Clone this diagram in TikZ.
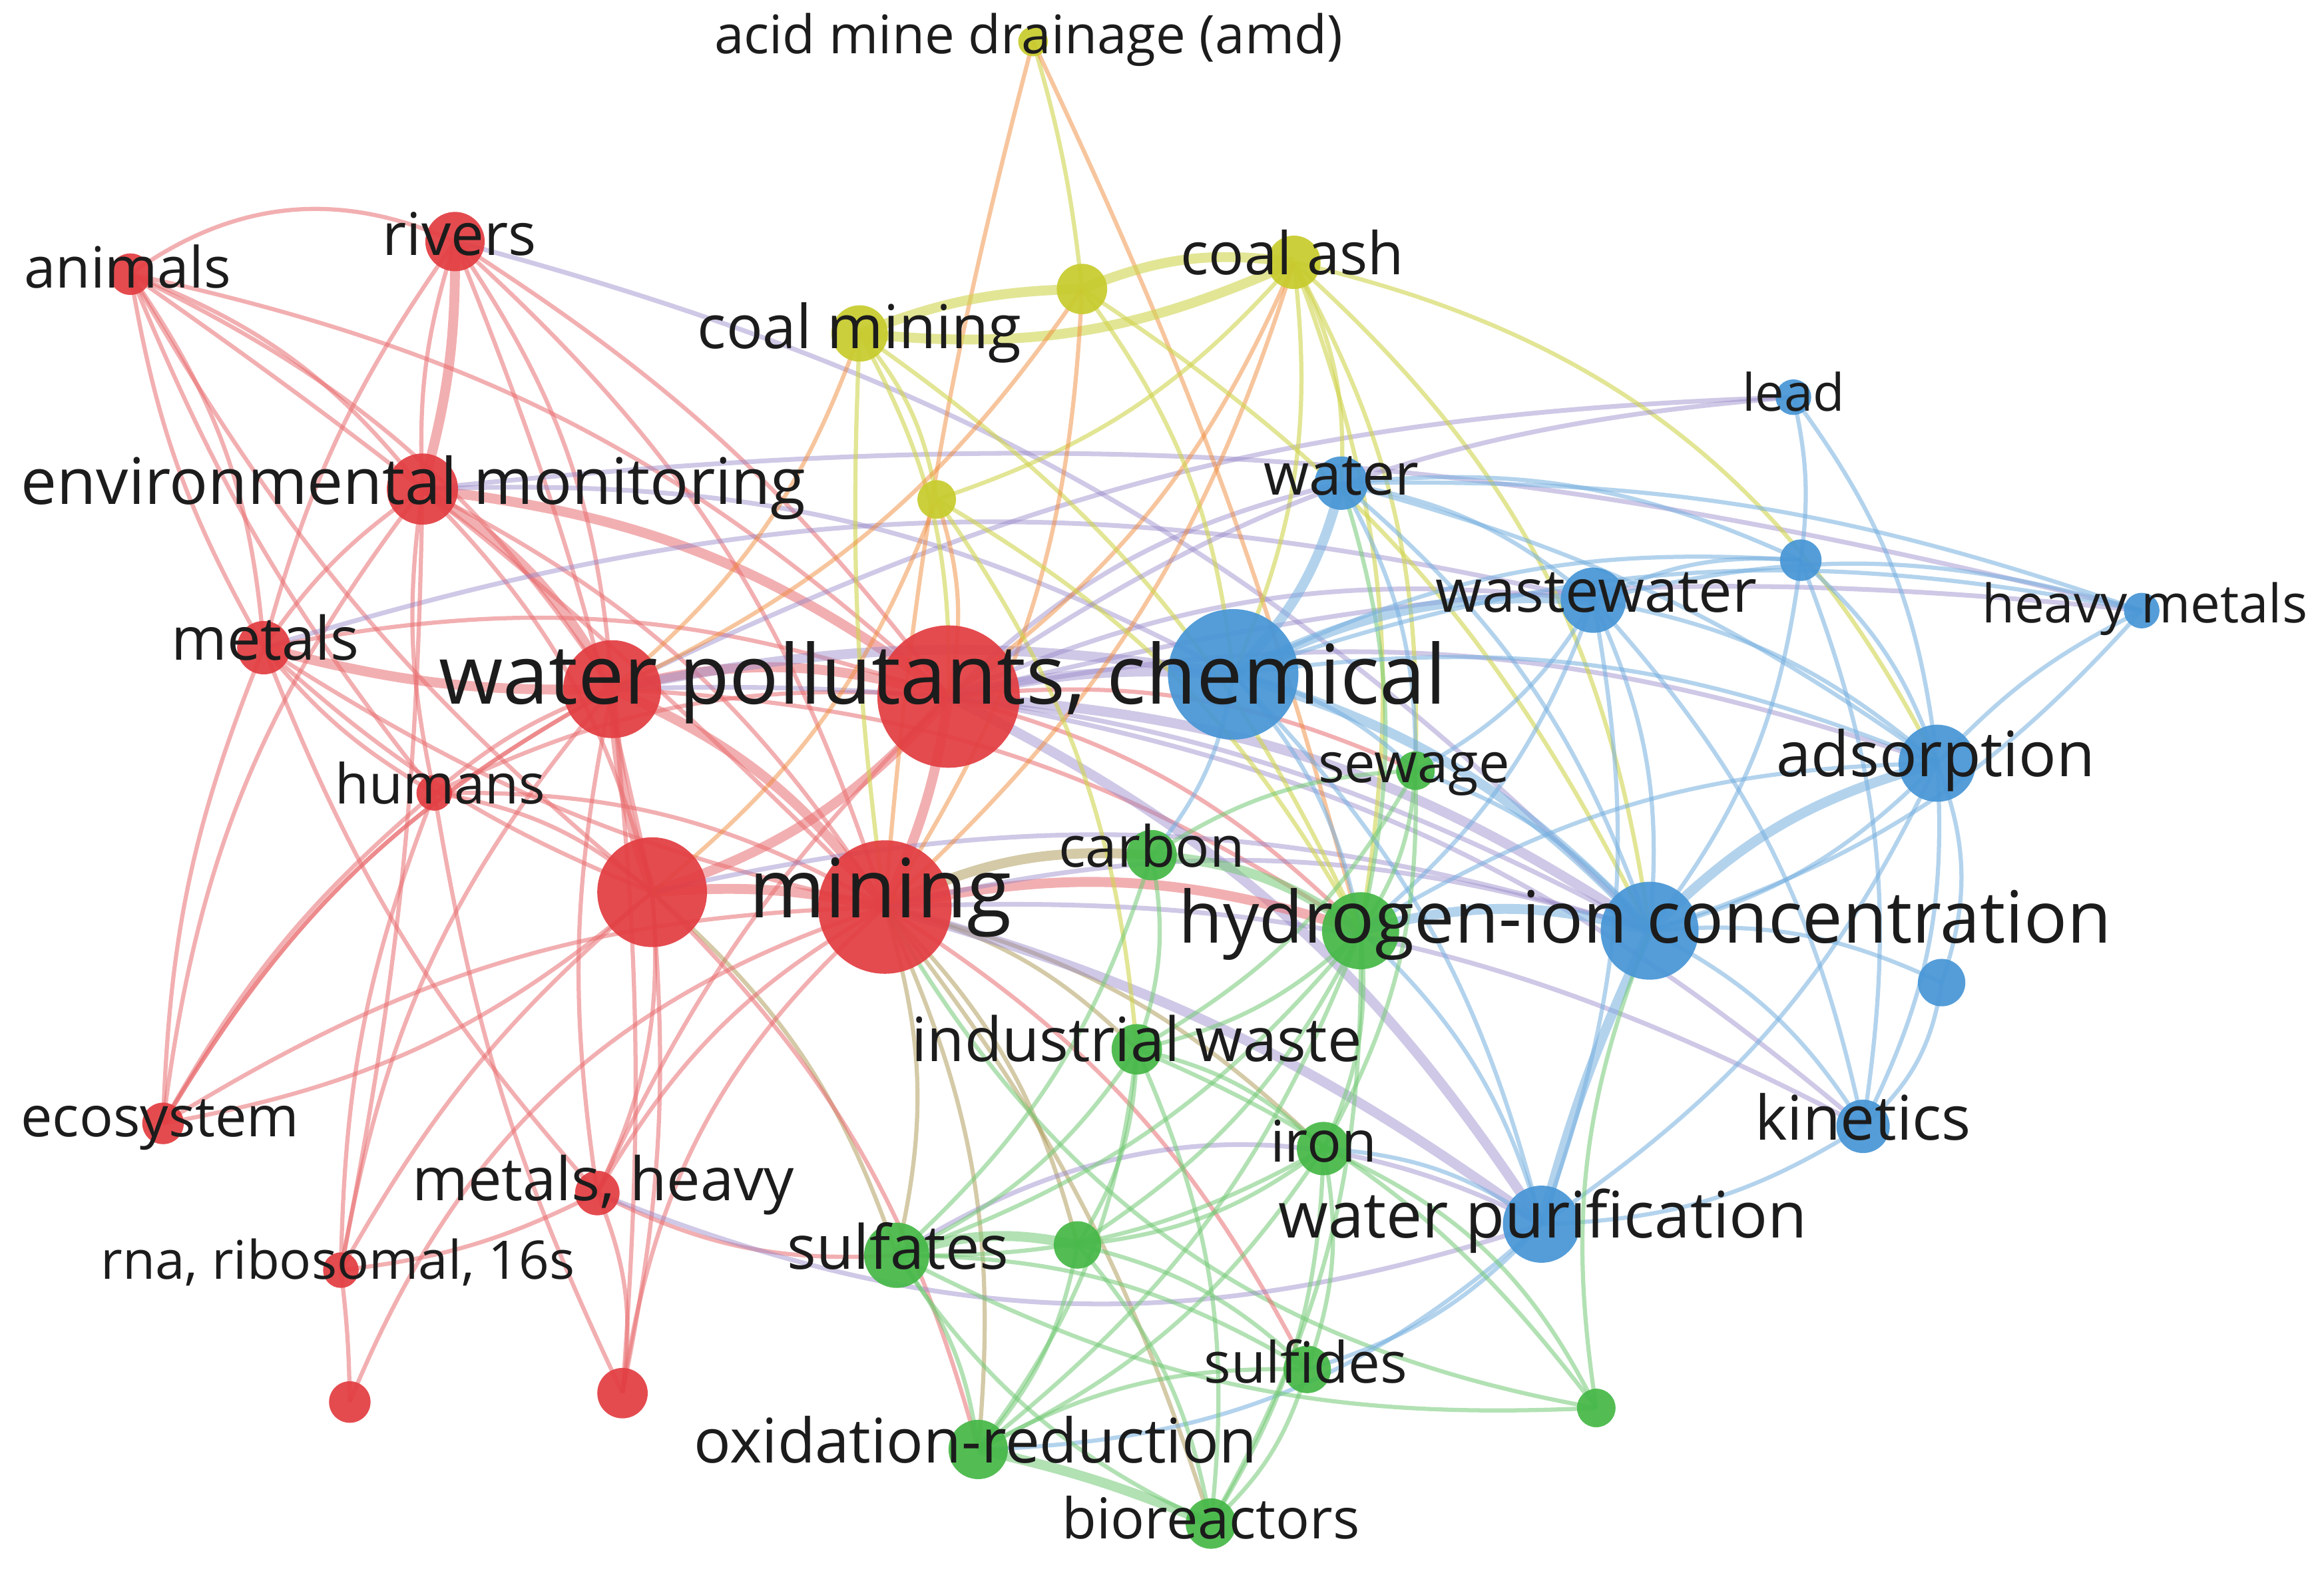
\documentclass[tikz,border=0pt]{standalone}
\usepackage{fontspec}
\setmainfont{Open Sans}
\usetikzlibrary{positioning}
\definecolor{vosred}{RGB}{226,62,66}
\definecolor{vosblue}{RGB}{72,150,214}
\definecolor{vosgreen}{RGB}{70,184,72}
\definecolor{vosyellow}{RGB}{200,204,46}
\definecolor{vospurple}{RGB}{150,135,200}
\definecolor{vosorange}{RGB}{240,140,60}
\definecolor{vosolive}{RGB}{170,150,80}
\definecolor{vostext}{RGB}{28,28,28}
\pgfdeclarelayer{background}
\pgfdeclarelayer{foreground}
\pgfsetlayers{background,main,foreground}

\begin{document}
\begin{tikzpicture}[x=0.01cm, y=-0.01cm,
	kwnode/.style={circle, inner sep=0pt, minimum size=#1, fill opacity=0.93},
	rednode/.style={kwnode=#1, fill=vosred},
	bluenode/.style={kwnode=#1, fill=vosblue},
	greennode/.style={kwnode=#1, fill=vosgreen},
	yellownode/.style={kwnode=#1, fill=vosyellow},
	kwlabel/.style={font=\fontsize{#1}{#1}\selectfont, text=vostext, inner sep=0pt, text height=0.72em, text depth=0.2em},
	redlink/.style={draw=vosred!75!white, opacity=0.55, line width=0.8pt, bend left=15},
	bluelink/.style={draw=vosblue!75!white, opacity=0.55, line width=0.8pt, bend left=15},
	greenlink/.style={draw=vosgreen!75!white, opacity=0.55, line width=0.8pt, bend left=15},
	yellowlink/.style={draw=vosyellow!85!white, opacity=0.6, line width=0.8pt, bend left=15},
	mixlink/.style={draw=vospurple, opacity=0.45, line width=0.9pt, bend left=15},
	orangelink/.style={draw=vosorange, opacity=0.5, line width=0.8pt, bend left=15},
	olivelink/.style={draw=vosolive, opacity=0.5, line width=0.8pt, bend left=15},
	heavy/.style={line width=1.9pt},
	]
	\useasboundingbox (0,0) rectangle (1568,1064);
	%Nodes
	\node[rednode=0.28cm]    (anim)     at (88,185)   {};
	\node[rednode=0.40cm]    (rivers)   at (307,163)  {};
	\node[rednode=0.48cm]    (envmon)   at (285,330)  {};
	\node[rednode=0.36cm]    (metals)   at (178,437)  {};
	\node[rednode=0.66cm]    (wpol)     at (413,465)  {};
	\node[rednode=0.24cm]    (humans)   at (293,535)  {};
	\node[rednode=0.74cm]    (redc)     at (440,602)  {};
	\node[rednode=0.28cm]    (ecosys)   at (110,758)  {};
	\node[rednode=0.30cm]    (metheavy) at (403,805)  {};
	\node[rednode=0.24cm]    (rna)      at (230,857)  {};
	\node[rednode=0.28cm]    (redsw)    at (236,946)  {};
	\node[rednode=0.34cm]    (redse)    at (420,940)  {};
	\node[yellownode=0.20cm] (amd)      at (697,28)   {};
	\node[yellownode=0.36cm] (coalash)  at (873,177)  {};
	\node[yellownode=0.34cm] (ylwa)     at (730,195)  {};
	\node[yellownode=0.38cm] (coalmin)  at (580,225)  {};
	\node[yellownode=0.26cm] (ylwb)     at (632,337)  {};
	\node[bluenode=0.24cm]   (lead)     at (1210,268) {};
	\node[bluenode=0.36cm]   (water)    at (905,326)  {};
	\node[bluenode=0.28cm]   (blueb)    at (1215,378) {};
	\node[bluenode=0.44cm]   (wastew)   at (1075,405) {};
	\node[bluenode=0.24cm]   (heavym)   at (1445,412) {};
	\node[bluenode=0.88cm]   (bluebig)  at (832,455)  {};
	\node[bluenode=0.52cm]   (adsorp)   at (1307,515) {};
	\node[bluenode=0.66cm]   (hion)     at (1113,628) {};
	\node[bluenode=0.32cm]   (bluec)    at (1310,663) {};
	\node[bluenode=0.36cm]   (kinet)    at (1257,760) {};
	\node[bluenode=0.52cm]   (wpur)     at (1040,826) {};
	\node[greennode=0.26cm]  (sewage)   at (955,520)  {};
	\node[greennode=0.34cm]  (carbon)   at (777,577)  {};
	\node[greennode=0.52cm]  (ghion)    at (918,628)  {};
	\node[greennode=0.34cm]  (indw)     at (767,708)  {};
	\node[greennode=0.36cm]  (iron)     at (893,775)  {};
	\node[greennode=0.44cm]  (sulfat)   at (605,847)  {};
	\node[greennode=0.32cm]  (greena)   at (727,840)  {};
	\node[greennode=0.32cm]  (sulfid)   at (882,924)  {};
	\node[greennode=0.26cm]  (greenb)   at (1077,950) {};
	\node[greennode=0.40cm]  (oxred)    at (660,978)  {};
	\node[greennode=0.34cm]  (biorx)    at (817,1028) {};
	\node[rednode=0.96cm]    (wpc)      at (640,470)  {};
	\node[rednode=0.90cm]    (mining)   at (597,612)  {};

	\begin{pgfonlayer}{foreground}
	\node[kwlabel=10.9pt] (tanim)     at (86,185)   {animals};
	\node[kwlabel=11.3pt] (trivers)   at (310,163)  {rivers};
	\node[kwlabel=12.3pt] (tenvmon)   at (279,331)  {environmental monitoring};
	\node[kwlabel=11.5pt] (tmetals)   at (179,436)  {metals};
	\node[kwlabel=15.8pt] (twpc)      at (636,466)  {water pollutants, chemical};
	\node[kwlabel=10.6pt] (thumans)   at (297,533)  {humans};
	\node[kwlabel=15.7pt] (tmining)   at (594,610)  {mining};
	\node[kwlabel=10.8pt] (tecosys)   at (108,758)  {ecosystem};
	\node[kwlabel=11.5pt] (tmetheavy) at (407,801)  {metals, heavy};
	\node[kwlabel=10.2pt] (trna)      at (228,854)  {rna, ribosomal, 16s};
	\node[kwlabel=10.2pt] (tamd)      at (694,27)   {acid mine drainage (amd)};
	\node[kwlabel=11.3pt] (tcoalash)  at (872,176)  {coal ash};
	\node[kwlabel=11.6pt] (tcoalmin)  at (580,226)  {coal mining};
	\node[kwlabel=9.9pt]  (tlead)     at (1210,268) {lead};
	\node[kwlabel=11.2pt] (twater)    at (905,325)  {water};
	\node[kwlabel=11.5pt] (twastew)   at (1077,404) {wastewater};
	\node[kwlabel=10.2pt] (theavym)   at (1447,411) {heavy metals};
	\node[kwlabel=12pt]   (tadsorp)   at (1306,515) {adsorption};
	\node[kwlabel=13.8pt] (thion)     at (1110,627) {hydrogen-ion concentration};
	\node[kwlabel=11.8pt] (tkinet)    at (1257,760) {kinetics};
	\node[kwlabel=12.3pt] (twpur)     at (1041,826) {water purification};
	\node[kwlabel=10.6pt] (tsewage)   at (954,519)  {sewage};
	\node[kwlabel=10.9pt] (tcarbon)   at (777,576)  {carbon};
	\node[kwlabel=11.7pt] (tindw)     at (767,707)  {industrial waste};
	\node[kwlabel=11pt]   (tiron)     at (893,775)  {iron};
	\node[kwlabel=11.7pt] (tsulfat)   at (606,847)  {sulfates};
	\node[kwlabel=10.9pt] (tsulfid)   at (881,924)  {sulfides};
	\node[kwlabel=11.8pt] (toxred)    at (658,978)  {oxidation-reduction};
	\node[kwlabel=10.8pt] (tbiorx)    at (817,1029) {bioreactors};
	\end{pgfonlayer}

	\begin{pgfonlayer}{background}
	\fill[white] (0,0) rectangle (1568,1064);
	%red cluster
	\draw[redlink, bend left=30] (anim.center) to (rivers.center);
	\draw[redlink] (anim.center) to (envmon.center);
	\draw[redlink] (anim.center) to (metals.center);
	\draw[redlink, bend right=10] (anim.center) to (metals.center);
	\draw[redlink] (anim.center) to (wpol.center);
	\draw[redlink] (anim.center) to (wpc.center);
	\draw[redlink, bend left=5] (anim.center) to (mining.center);
	\draw[redlink, bend right=10] (anim.center) to (redc.center);
	\draw[redlink, bend right=8] (anim.center) to (humans.center);
	\draw[redlink, heavy, bend left=8] (rivers.center) to (envmon.center);
	\draw[redlink, bend right=10] (rivers.center) to (envmon.center);
	\draw[redlink, bend right=10] (rivers.center) to (metals.center);
	\draw[redlink] (rivers.center) to (wpol.center);
	\draw[redlink, bend left=10] (rivers.center) to (wpc.center);
	\draw[redlink] (rivers.center) to (mining.center);
	\draw[redlink, bend left=5] (rivers.center) to (redc.center);
	\draw[mixlink] (rivers.center) to (hion.center);
	\draw[redlink, bend right=10] (envmon.center) to (metals.center);
	\draw[redlink, heavy] (envmon.center) to (wpol.center);
	\draw[redlink, heavy] (envmon.center) to (wpc.center);
	\draw[redlink] (envmon.center) to (mining.center);
	\draw[redlink] (envmon.center) to (redc.center);
	\draw[redlink, bend right=10] (envmon.center) to (humans.center);
	\draw[redlink, bend right=15] (envmon.center) to (ecosys.center);
	\draw[mixlink] (envmon.center) to (bluebig.center);
	\draw[mixlink, bend left=10] (envmon.center) to (heavym.center);
	\draw[redlink, heavy, bend right=8] (metals.center) to (wpol.center);
	\draw[redlink] (metals.center) to (wpc.center);
	\draw[redlink, bend right=10] (metals.center) to (mining.center);
	\draw[redlink, bend right=10] (metals.center) to (redc.center);
	\draw[redlink, bend right=10] (metals.center) to (humans.center);
	\draw[redlink, bend right=10] (metals.center) to (ecosys.center);
	\draw[redlink, bend right=10] (metals.center) to (metheavy.center);
	\draw[mixlink] (metals.center) to (wastew.center);
	\draw[redlink, bend left=10] (humans.center) to (wpol.center);
	\draw[redlink] (humans.center) to (mining.center);
	\draw[redlink] (humans.center) to (redc.center);
	\draw[redlink, bend right=10] (humans.center) to (ecosys.center);
	\draw[redlink] (humans.center) to (wpc.center);
	\draw[redlink, bend right=10] (humans.center) to (rna.center);
	\draw[redlink, heavy] (wpol.center) to (wpc.center);
	\draw[redlink, heavy] (wpol.center) to (mining.center);
	\draw[redlink, heavy, bend right=8] (wpol.center) to (redc.center);
	\draw[redlink, bend right=10] (wpol.center) to (metheavy.center);
	\draw[redlink, bend right=15] (wpol.center) to (rna.center);
	\draw[redlink, bend right=15] (wpol.center) to (ecosys.center);
	\draw[mixlink, heavy, bend left=10] (wpol.center) to (bluebig.center);
	\draw[mixlink] (wpol.center) to (hion.center);
	\draw[mixlink, bend left=12] (wpol.center) to (lead.center);
	\draw[redlink] (wpol.center) to (ghion.center);
	\draw[redlink, heavy, bend left=8] (wpc.center) to (mining.center);
	\draw[redlink, heavy] (wpc.center) to (redc.center);
	\draw[mixlink, heavy, bend left=8] (wpc.center) to (bluebig.center);
	\draw[mixlink, heavy] (wpc.center) to (hion.center);
	\draw[mixlink] (wpc.center) to (wastew.center);
	\draw[mixlink] (wpc.center) to (water.center);
	\draw[mixlink, bend left=10] (wpc.center) to (heavym.center);
	\draw[mixlink, heavy] (wpc.center) to (wpur.center);
	\draw[redlink] (wpc.center) to (sewage.center);
	\draw[redlink, bend right=10] (wpc.center) to (metheavy.center);
	\draw[redlink] (wpc.center) to (ghion.center);
	\draw[mixlink] (wpc.center) to (adsorp.center);
	\draw[mixlink] (wpc.center) to (kinet.center);
	\draw[redlink, heavy, bend left=8] (redc.center) to (mining.center);
	\draw[redlink] (redc.center) to (metheavy.center);
	\draw[redlink, bend right=10] (redc.center) to (rna.center);
	\draw[redlink] (redc.center) to (ecosys.center);
	\draw[redlink, bend left=8] (redc.center) to (redse.center);
	\draw[olivelink] (redc.center) to (sulfat.center);
	\draw[mixlink] (redc.center) to (hion.center);
	\draw[redlink] (redc.center) to (oxred.center);
	\draw[redlink] (metheavy.center) to (mining.center);
	\draw[redlink, bend right=20] (mining.center) to (redse.center);
	\draw[redlink, bend right=25] (mining.center) to (redsw.center);
	\draw[olivelink] (mining.center) to (sulfat.center);
	\draw[olivelink] (mining.center) to (oxred.center);
	\draw[olivelink, bend left=10] (mining.center) to (biorx.center);
	\draw[olivelink] (mining.center) to (iron.center);
	\draw[olivelink] (mining.center) to (indw.center);
	\draw[olivelink, heavy] (mining.center) to (carbon.center);
	\draw[redlink, heavy] (mining.center) to (ghion.center);
	\draw[mixlink] (mining.center) to (hion.center);
	\draw[mixlink, heavy, bend left=10] (mining.center) to (wpur.center);
	\draw[olivelink] (mining.center) to (greena.center);
	\draw[greenlink, bend right=25] (mining.center) to (greenb.center);
	\draw[mixlink] (mining.center) to (kinet.center);
	\draw[redlink] (mining.center) to (sulfid.center);
	\draw[redlink] (metheavy.center) to (redse.center);
	\draw[redlink, bend left=10] (metheavy.center) to (rna.center);
	\draw[redlink, bend right=15] (metheavy.center) to (sulfat.center);
	\draw[mixlink, bend right=20] (metheavy.center) to (wpur.center);
	\draw[redlink, bend left=3] (rna.center) to (redsw.center);
	\draw[redlink, bend left=5] (envmon.center) to (rna.center);
	\draw[redlink, bend left=15] (ecosys.center) to (mining.center);
	\draw[redlink, bend left=15] (ecosys.center) to (wpol.center);
	\draw[redlink, bend right=5] (redse.center) to (wpol.center);
	\draw[redlink, bend left=8] (redse.center) to (humans.center);
	%yellow cluster
	\draw[yellowlink, bend left=5] (amd.center) to (ylwa.center);
	\draw[orangelink, bend right=5] (amd.center) to (mining.center);
	\draw[orangelink, bend left=5] (amd.center) to (ghion.center);
	\draw[yellowlink, heavy] (ylwa.center) to (coalash.center);
	\draw[yellowlink, heavy, bend right=15] (coalmin.center) to (coalash.center);
	\draw[yellowlink] (coalash.center) to (ylwb.center);
	\draw[yellowlink] (coalash.center) to (bluebig.center);
	\draw[yellowlink] (coalash.center) to (water.center);
	\draw[yellowlink] (coalash.center) to (ghion.center);
	\draw[yellowlink, bend left=20] (coalash.center) to (hion.center);
	\draw[yellowlink] (coalash.center) to (sewage.center);
	\draw[orangelink] (coalash.center) to (wpc.center);
	\draw[orangelink] (coalash.center) to (mining.center);
	\draw[yellowlink, bend left=25] (coalash.center) to (adsorp.center);
	\draw[yellowlink, heavy, bend left=10] (coalmin.center) to (ylwa.center);
	\draw[yellowlink] (coalmin.center) to (ylwb.center);
	\draw[yellowlink] (coalmin.center) to (wpc.center);
	\draw[yellowlink, bend right=5] (coalmin.center) to (mining.center);
	\draw[orangelink] (coalmin.center) to (wpol.center);
	\draw[yellowlink] (coalmin.center) to (ghion.center);
	\draw[yellowlink] (ylwa.center) to (bluebig.center);
	\draw[orangelink] (ylwa.center) to (mining.center);
	\draw[orangelink] (ylwa.center) to (wpol.center);
	\draw[yellowlink] (ylwa.center) to (hion.center);
	\draw[orangelink] (ylwb.center) to (wpc.center);
	\draw[orangelink] (ylwb.center) to (redc.center);
	\draw[yellowlink] (ylwb.center) to (ghion.center);
	\draw[yellowlink] (ylwb.center) to (indw.center);
	%blue cluster
	\draw[bluelink, bend left=10] (lead.center) to (blueb.center);
	\draw[bluelink] (lead.center) to (adsorp.center);
	\draw[mixlink, bend right=15] (lead.center) to (wpc.center);
	\draw[bluelink, heavy] (water.center) to (bluebig.center);
	\draw[bluelink] (water.center) to (wastew.center);
	\draw[bluelink] (water.center) to (hion.center);
	\draw[bluelink, bend left=10] (water.center) to (adsorp.center);
	\draw[bluelink, bend left=10] (water.center) to (heavym.center);
	\draw[greenlink] (water.center) to (ghion.center);
	\draw[bluelink] (water.center) to (sewage.center);
	\draw[bluelink] (blueb.center) to (adsorp.center);
	\draw[bluelink] (blueb.center) to (hion.center);
	\draw[bluelink] (wastew.center) to (blueb.center);
	\draw[bluelink] (water.center) to (blueb.center);
	\draw[bluelink] (bluebig.center) to (blueb.center);
	\draw[bluelink] (blueb.center) to (kinet.center);
	\draw[bluelink, bend right=10] (heavym.center) to (adsorp.center);
	\draw[bluelink] (wastew.center) to (heavym.center);
	\draw[bluelink, bend right=15] (heavym.center) to (bluebig.center);
	\draw[bluelink] (heavym.center) to (hion.center);
	\draw[bluelink, heavy] (bluebig.center) to (wastew.center);
	\draw[bluelink] (wastew.center) to (hion.center);
	\draw[bluelink] (wastew.center) to (adsorp.center);
	\draw[bluelink] (wastew.center) to (wpur.center);
	\draw[bluelink] (wastew.center) to (sewage.center);
	\draw[bluelink] (wastew.center) to (ghion.center);
	\draw[bluelink] (wastew.center) to (kinet.center);
	\draw[bluelink, heavy] (bluebig.center) to (hion.center);
	\draw[bluelink] (bluebig.center) to (adsorp.center);
	\draw[bluelink] (bluebig.center) to (wpur.center);
	\draw[bluelink] (bluebig.center) to (ghion.center);
	\draw[bluelink] (bluebig.center) to (sewage.center);
	\draw[bluelink] (bluebig.center) to (carbon.center);
	\draw[bluelink, heavy] (hion.center) to (adsorp.center);
	\draw[bluelink] (adsorp.center) to (hion.center);
	\draw[bluelink] (adsorp.center) to (kinet.center);
	\draw[bluelink, bend left=20] (adsorp.center) to (bluec.center);
	\draw[bluelink] (adsorp.center) to (wpur.center);
	\draw[bluelink] (ghion.center) to (adsorp.center);
	\draw[bluelink] (hion.center) to (kinet.center);
	\draw[bluelink] (hion.center) to (bluec.center);
	\draw[bluelink, heavy, bend right=5] (hion.center) to (wpur.center);
	\draw[bluelink, heavy] (ghion.center) to (hion.center);
	\draw[bluelink] (sewage.center) to (hion.center);
	\draw[bluelink, bend right=20] (kinet.center) to (bluec.center);
	\draw[bluelink] (kinet.center) to (wpur.center);
	\draw[bluelink, bend left=20] (wpur.center) to (oxred.center);
	\draw[bluelink] (wpur.center) to (sulfid.center);
	\draw[bluelink] (ghion.center) to (wpur.center);
	\draw[mixlink, bend left=30] (sulfat.center) to (wpur.center);
	\draw[bluelink] (iron.center) to (wpur.center);
	%green cluster
	\draw[greenlink] (sewage.center) to (ghion.center);
	\draw[greenlink] (carbon.center) to (sewage.center);
	\draw[greenlink] (sewage.center) to (indw.center);
	\draw[greenlink] (sewage.center) to (iron.center);
	\draw[greenlink, heavy] (carbon.center) to (ghion.center);
	\draw[greenlink] (carbon.center) to (indw.center);
	\draw[greenlink] (carbon.center) to (sulfat.center);
	\draw[greenlink] (ghion.center) to (indw.center);
	\draw[greenlink] (ghion.center) to (iron.center);
	\draw[greenlink] (ghion.center) to (sulfat.center);
	\draw[greenlink] (ghion.center) to (oxred.center);
	\draw[greenlink] (ghion.center) to (biorx.center);
	\draw[greenlink] (ghion.center) to (greena.center);
	\draw[greenlink] (indw.center) to (iron.center);
	\draw[greenlink] (indw.center) to (sulfat.center);
	\draw[greenlink] (indw.center) to (greena.center);
	\draw[greenlink] (indw.center) to (oxred.center);
	\draw[greenlink] (indw.center) to (biorx.center);
	\draw[greenlink] (iron.center) to (sulfat.center);
	\draw[greenlink] (iron.center) to (greena.center);
	\draw[greenlink] (iron.center) to (oxred.center);
	\draw[greenlink] (iron.center) to (sulfid.center);
	\draw[greenlink, bend left=20] (iron.center) to (greenb.center);
	\draw[greenlink] (iron.center) to (biorx.center);
	\draw[greenlink, heavy] (sulfat.center) to (greena.center);
	\draw[greenlink] (sulfat.center) to (oxred.center);
	\draw[greenlink, bend right=15] (sulfat.center) to (biorx.center);
	\draw[greenlink] (sulfat.center) to (sulfid.center);
	\draw[greenlink] (greena.center) to (oxred.center);
	\draw[greenlink] (greena.center) to (biorx.center);
	\draw[greenlink] (greena.center) to (sulfid.center);
	\draw[greenlink] (sulfid.center) to (biorx.center);
	\draw[greenlink] (oxred.center) to (sulfid.center);
	\draw[greenlink, heavy, bend left=5] (oxred.center) to (biorx.center);
	\draw[greenlink] (greenb.center) to (hion.center);
	\draw[greenlink] (indw.center) to (greenb.center);
	\draw[greenlink, bend right=15] (sulfat.center) to (greenb.center);
	\end{pgfonlayer}
\end{tikzpicture}
\end{document}
